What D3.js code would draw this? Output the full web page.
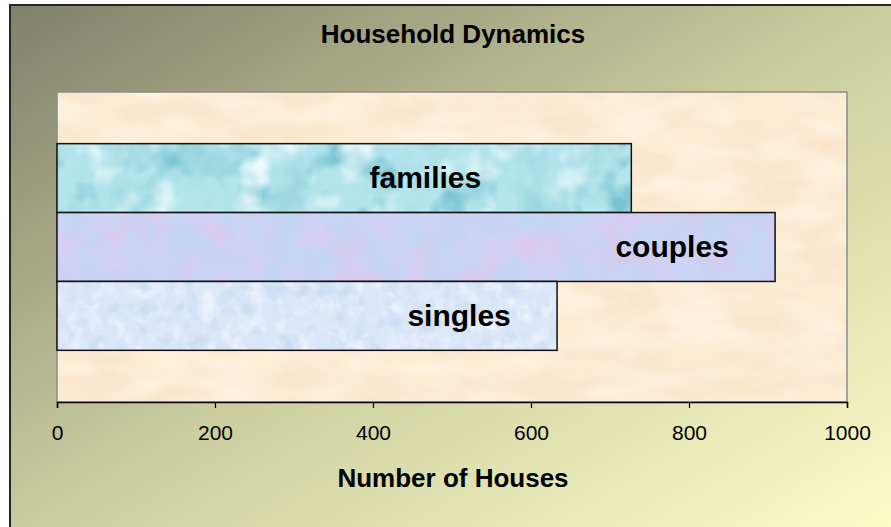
<!DOCTYPE html>
<html>
<head>
<meta charset="utf-8">
<script src="https://cdn.jsdelivr.net/npm/d3@7"></script>
<style>
  body { margin: 0; background: #ffffff; overflow: hidden; }
  text { font-family: "Liberation Sans", Arial, sans-serif; fill: #000; }
</style>
</head>
<body>
<svg id="chart" width="891" height="527"></svg>
<script>
// data
const categories = ["families", "couples", "singles"];
const houses = [727, 909, 633];
const xTicks = [0, 200, 400, 600, 800, 1000];
const chartTitle = "Household Dynamics";
const xTitle = "Number of Houses";

const svg = d3.select("#chart");
const defs = svg.append("defs");

// plot area box
const plot = {left: 57, right: 847, top: 92, bottom: 402};

// outer background gradient (dark olive top-left to pale yellow bottom-right)
const bg = defs.append("linearGradient")
    .attr("id", "bgGrad")
    .attr("x1", 0).attr("y1", 0).attr("x2", 1).attr("y2", 1);
bg.append("stop").attr("offset", 0).attr("stop-color", "#80816a");
bg.append("stop").attr("offset", 0.5).attr("stop-color", "#cbce9f");
bg.append("stop").attr("offset", 1).attr("stop-color", "#ffffcc");

// texture filter: base colour plus noise blotch layers
function makeTexture(id, base, spots, freq, type, seed){
    const f = defs.append("filter")
        .attr("id", id)
        .attr("x", 0).attr("y", 0).attr("width", 1).attr("height", 1)
        .attr("color-interpolation-filters", "sRGB");
    f.append("feFlood").attr("flood-color", base).attr("result", "base");
    f.append("feTurbulence")
        .attr("type", type)
        .attr("baseFrequency", freq)
        .attr("numOctaves", 3)
        .attr("seed", seed)
        .attr("result", "noise");
    let prev = "base";
    spots.forEach((s, i) => {
        const c = d3.rgb(s.color);
        // pick one noise channel, turn it into alpha
        const ch = [0, 0, 0, 0];
        ch[i % 3] = s.gain;
        f.append("feColorMatrix")
            .attr("in", "noise")
            .attr("type", "matrix")
            .attr("values",
                "0 0 0 0 " + (c.r / 255) + " " +
                "0 0 0 0 " + (c.g / 255) + " " +
                "0 0 0 0 " + (c.b / 255) + " " +
                ch.join(" ") + " " + s.offset)
            .attr("result", "tint" + i);
        f.append("feComposite")
            .attr("in", "tint" + i)
            .attr("in2", prev)
            .attr("operator", "over")
            .attr("result", "mix" + i);
        prev = "mix" + i;
    });
    f.append("feComposite")
        .attr("in", prev)
        .attr("in2", "SourceGraphic")
        .attr("operator", "in");
}

makeTexture("texPlot", "#fcecd4", [
    {color: "#f5e0c2", gain: 1.4, offset: -0.6},
    {color: "#fff6e8", gain: 1.4, offset: -0.6}
], "0.015 0.04", "fractalNoise", 4);

makeTexture("texFamilies", "#b4e5ec", [
    {color: "#78c2d2", gain: 4.0, offset: -2.1},
    {color: "#ecfbfd", gain: 3.6, offset: -1.9},
    {color: "#98d4df", gain: 2.6, offset: -1.25}
], "0.022", "fractalNoise", 7);

makeTexture("texCouples", "#c8d3f3", [
    {color: "#e2c6ec", gain: 2.4, offset: -1.1},
    {color: "#b8dcf2", gain: 2.2, offset: -1.05},
    {color: "#d6d2f6", gain: 2.0, offset: -0.9}
], "0.03", "fractalNoise", 11);

makeTexture("texSingles", "#dbe7f8", [
    {color: "#f2f7fe", gain: 2.4, offset: -1.15},
    {color: "#c8d9f1", gain: 2.2, offset: -1.05}
], "0.06", "fractalNoise", 3);

// chart frame
svg.append("rect")
    .attr("x", 10).attr("y", 5)
    .attr("width", 900).attr("height", 540)
    .attr("fill", "url(#bgGrad)")
    .attr("stroke", "#262626")
    .attr("stroke-width", 2);

// scales
const xScale = d3.scaleLinear()
    .domain([0, 1000])
    .range([plot.left, plot.right]);

const yScale = d3.scaleBand()
    .domain(categories)
    .range([plot.top, plot.bottom])
    .paddingInner(0)
    .paddingOuter(0.75);

// plot area background
svg.append("rect")
    .attr("x", plot.left).attr("y", plot.top)
    .attr("width", plot.right - plot.left)
    .attr("height", plot.bottom - plot.top)
    .attr("fill", "#fcecd4")
    .attr("filter", "url(#texPlot)");
svg.append("rect")
    .attr("x", plot.left).attr("y", plot.top)
    .attr("width", plot.right - plot.left)
    .attr("height", plot.bottom - plot.top)
    .attr("fill", "none")
    .attr("stroke", "#8c8c8c")
    .attr("stroke-width", 1.5);

// bars
const texIds = {families: "texFamilies", couples: "texCouples", singles: "texSingles"};
const rows = categories.map((c, i) => ({cat: c, value: houses[i]}));

const bars = svg.selectAll(".bar")
    .data(rows)
    .enter()
    .append("g")
    .classed("bar", true);

bars.append("rect")
    .attr("x", xScale(0))
    .attr("y", d => yScale(d.cat))
    .attr("width", d => xScale(d.value) - xScale(0))
    .attr("height", yScale.bandwidth())
    .attr("fill", "#ccc")
    .attr("filter", d => "url(#" + texIds[d.cat] + ")");

bars.append("rect")
    .attr("x", xScale(0))
    .attr("y", d => yScale(d.cat))
    .attr("width", d => xScale(d.value) - xScale(0))
    .attr("height", yScale.bandwidth())
    .attr("fill", "none")
    .attr("stroke", "#111")
    .attr("stroke-width", 1.5);

// series labels inside the bars (shift back from bar end, in px)
const labelShift = {families: -206, couples: -103, singles: -98};
bars.append("text")
    .attr("x", d => xScale(d.value) + labelShift[d.cat])
    .attr("y", d => yScale(d.cat) + yScale.bandwidth() / 2 + 10)
    .attr("text-anchor", "middle")
    .style("font-size", "30px")
    .style("font-weight", "bold")
    .text(d => d.cat);

// x axis
const xAxis = d3.axisBottom(xScale)
    .tickValues(xTicks)
    .tickSize(6)
    .tickPadding(17)
    .tickFormat(d3.format("d"));

const axisG = svg.append("g")
    .attr("transform", "translate(0," + plot.bottom + ")")
    .call(xAxis);
axisG.select(".domain").attr("stroke", "#000").attr("stroke-width", 1.5);
axisG.selectAll(".tick line").attr("stroke", "#000").attr("stroke-width", 1.2);
axisG.selectAll(".tick text")
    .style("font-family", "'Liberation Sans', Arial, sans-serif")
    .style("font-size", "21px")
    .attr("fill", "#000");

// titles
svg.append("text")
    .attr("x", 453).attr("y", 43)
    .attr("text-anchor", "middle")
    .style("font-size", "26px")
    .style("font-weight", "bold")
    .text(chartTitle);

svg.append("text")
    .attr("x", 453).attr("y", 487)
    .attr("text-anchor", "middle")
    .style("font-size", "26px")
    .style("font-weight", "bold")
    .text(xTitle);
</script>
</body>
</html>
